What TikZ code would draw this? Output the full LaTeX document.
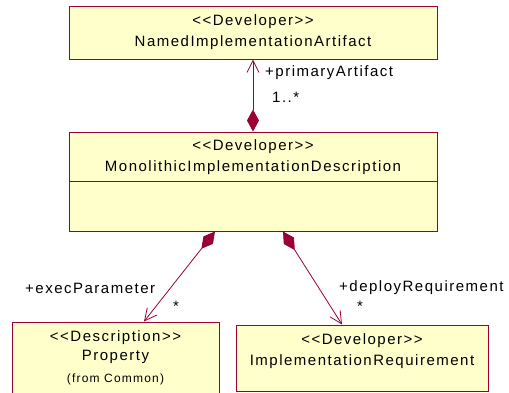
\documentclass[tikz,border=0pt]{standalone}
\usepackage{fontspec}
\setmainfont{Liberation Sans}[LetterSpace=10]
\usetikzlibrary{arrows.meta}
\definecolor{umlline}{HTML}{990033}
\definecolor{umlfill}{HTML}{FFFFCC}
\newcommand{\stereo}[1]{<{}<#1>{}>}
\tikzset{
  classbox/.style={draw=umlline, fill=umlfill, line width=1pt, inner sep=0pt},
  txt/.style={font=\fontsize{15}{17}\selectfont, inner sep=0pt},
  smalltxt/.style={font=\fontsize{12}{14}\selectfont, inner sep=0pt},
  assoc/.style={draw=umlline, line width=0.8pt,
    {Diamond[length=22pt,width=12pt,fill=umlline]}-{Straight Barb[length=12pt,width=12pt]}},
}
\begin{document}
\begin{tikzpicture}[x=1pt,y=-1pt]
\useasboundingbox (0,0) rectangle (509,392);

% class boxes
\node[classbox, minimum width=368pt, minimum height=53pt] (named) at (253,32.5) {};
\node[classbox, minimum width=368pt, minimum height=99pt] (mono) at (253,181.5) {};
\draw[umlline, line width=1pt] (mono.west) -- (mono.east);
\node[classbox, minimum width=207pt, minimum height=76pt] (prop) at (115.5,360) {};
\node[classbox, minimum width=252pt, minimum height=66pt] (req) at (362,358) {};

% class names
\node[txt] (namedst) at (253,22) {\stereo{Developer}};
\node[txt] (namednm) at (253,43) {NamedImplementationArtifact};
\node[txt] (monost) at (253,147) {\stereo{Developer}};
\node[txt] (mononm) at (253,168) {MonolithicImplementationDescription};
\node[txt] (propst) at (115.5,338) {\stereo{Description}};
\node[txt] (propnm) at (115.5,357) {Property};
\node[smalltxt] (propfrom) at (115.5,379) {(from Common)};
\node[txt] (reqst) at (362,341) {\stereo{Developer}};
\node[txt] (reqnm) at (362,362) {ImplementationRequirement};

% association ends
\coordinate (lstart) at ([xshift=-38pt]mono.south);
\coordinate (lend) at ([xshift=28.5pt]prop.north);
\coordinate (rstart) at ([xshift=30pt]mono.south);
\coordinate (rend) at ([xshift=-20pt]req.north);

% composition associations
\draw[assoc] (mono.north) -- (named.south);
\draw[assoc] (lstart) -- (lend);
\draw[assoc] (rstart) -- (rend);

% role names and multiplicities
\node[txt, anchor=west] (rolepa) at (265,73) {+primaryArtifact};
\node[txt, anchor=west] (multpa) at (272,97) {1..*};
\node[txt, anchor=west] (roleep) at (25,288) {+execParameter};
\node[txt] (multep) at (176,306) {*};
\node[txt, anchor=west] (roledr) at (339,288) {+deployRequirement};
\node[txt] (multdr) at (360,306) {*};
\end{tikzpicture}
\end{document}
